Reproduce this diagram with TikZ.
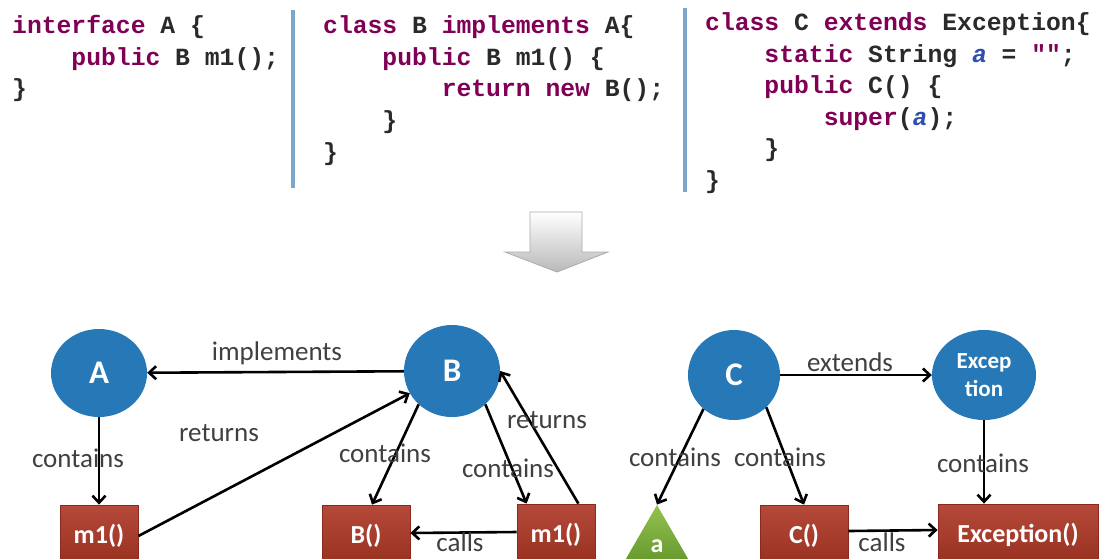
\documentclass[tikz,border=0pt]{standalone}
\usepackage{fontspec}
\setmainfont{Carlito}
\newfontfamily\codefont{Liberation Mono}
\usetikzlibrary{arrows.meta,shapes.geometric}
\definecolor{kw}{HTML}{7F0055}
\definecolor{idc}{HTML}{2A2A2A}
\definecolor{fldc}{HTML}{2F4FB0}
\definecolor{sepc}{HTML}{7BA7CC}
\definecolor{cblue}{HTML}{2678B6}
\definecolor{boxtop}{HTML}{B5493A}
\definecolor{boxbot}{HTML}{96301F}
\definecolor{boxedge}{HTML}{8A2A1E}
\definecolor{grtop}{HTML}{93C24E}
\definecolor{grbot}{HTML}{5F9129}
\definecolor{lblc}{HTML}{404040}
\newcommand{\kw}[1]{\textcolor{kw}{#1}}
\newcommand{\fldname}[1]{\textcolor{fldc}{\textit{#1}}}
\newcommand{\ind}{\hspace*{59.28pt}}
\begin{document}
\begin{tikzpicture}[x=1pt,y=-1pt,
  code/.style={anchor=base west, inner sep=0pt, font=\codefont\bfseries\fontsize{24.7}{31}\selectfont, text=idc},
  sepline/.style={draw=sepc, line width=4pt},
  cls/.style={ellipse, fill=cblue, inner sep=0pt, text=white, font=\bfseries\fontsize{33}{36}\selectfont},
  mbox/.style={rectangle, minimum height=62pt, inner sep=0pt, top color=boxtop, bottom color=boxbot, draw=boxedge, line width=0.8pt, text=white, font=\bfseries\fontsize{26}{30}\selectfont},
  fieldtri/.style={regular polygon, regular polygon sides=3, minimum size=89.4pt, inner sep=0pt, top color=grtop, bottom color=grbot, text=white, font=\bfseries\fontsize{26}{30}\selectfont},
  lbl/.style={inner sep=0pt, text=lblc, font=\fontsize{27}{32}\selectfont},
  arr/.style={draw=black, line width=2.6pt, -{Straight Barb[length=7pt,width=13pt]}}
]
\useasboundingbox (0,0) rectangle (1099,558);
\clip (0,0) rectangle (1099,558);
\fill[white] (0,0) rectangle (1099,558);

% code column 1
\node[code] (a1) at (12,33) {\kw{interface} A \{};
\node[code] (a2) at (12,65) {\ind\kw{public} B m1();};
\node[code] (a3) at (12,96) {\}};
\draw[sepline] (293,10) -- (293,188);
% code column 2
\node[code] (b1) at (323,33) {\kw{class} B \kw{implements} A\{};
\node[code] (b2) at (323,65) {\ind\kw{public} B m1() \{};
\node[code] (b3) at (323,96) {\ind\ind\kw{return} \kw{new} B();};
\node[code] (b4) at (323,128) {\ind\}};
\node[code] (b5) at (323,160) {\}};
\draw[sepline] (685,8) -- (685,192);
% code column 3
\node[code] (c1) at (705,30) {\kw{class} C \kw{extends} Exception\{};
\node[code] (c2) at (705,62) {\ind\kw{static} String \fldname{a} = \kw{""};};
\node[code] (c3) at (705,93) {\ind\kw{public} C() \{};
\node[code] (c4) at (705,125) {\ind\ind\kw{super}(\fldname{a});};
\node[code] (c5) at (705,156) {\ind\}};
\node[code] (c6) at (705,188) {\}};

% transformation arrow
\draw[draw=gray!65, top color=white, bottom color=gray!55, line width=0.8pt]
  (530,212) -- (582,212) -- (582,252) -- (608,252) -- (557,272) -- (505,252) -- (530,252) -- cycle;

% graph nodes
\node[cls, minimum width=96pt, minimum height=88pt] (A) at (99,373) {A};
\node[cls, minimum width=96pt, minimum height=92pt] (B) at (452,371) {B};
\node[cls, minimum width=92pt, minimum height=90pt] (C) at (734,375) {C};
\node[cls, minimum width=104pt, minimum height=90pt, align=center, font=\bfseries\fontsize{23}{28}\selectfont] (Exc) at (984,375) {Excep\\tion};

\node[mbox, minimum width=78pt] (m1a) at (99,536) {m1()};
\node[mbox, minimum width=88pt] (Bc) at (366,536) {B()};
\node[mbox, minimum width=78pt] (m1b) at (556,535) {m1()};
\node[fieldtri] (fa) at (657,549.7) {\raisebox{7pt}{a}};
\node[mbox, minimum width=88pt] (Cc) at (804,536) {C()};
\node[mbox, minimum width=160pt] (Excb) at (1018,535) {Exception()};

% connectors
\draw[arr] (B) -- (A);
\draw[arr] (A) -- (m1a);
\draw[arr] (m1a.east) -- (B);
\draw[arr] (B.225) -- ([xshift=6pt]Bc.north);
\draw[arr] (B.315) -- ([xshift=10pt]m1b.north west);
\draw[arr] ([xshift=-17pt]m1b.north east) -- (B.east);
\draw[arr] ([yshift=3pt]m1b.west) -- ([yshift=3pt]Bc.east);
\draw[arr] (C) -- (Exc);
\draw[arr] (C.228) -- (fa.corner 1);
\draw[arr] (C.315) -- (Cc.north);
\draw[arr] (Exc) -- (Exc |- Excb.north);
\draw[arr] ([yshift=5pt]Cc.east) -- ([yshift=5pt]Excb.west);

% labels
\node[lbl] (limpl) at (277,353) {implements};
\node[lbl] (lca) at (78,458) {contains};
\node[lbl] (lra) at (219,433) {returns};
\node[lbl] (lcb1) at (385,453) {contains};
\node[lbl] (lcb2) at (508,468) {contains};
\node[lbl] (lrb) at (547,420) {returns};
\node[lbl] (lcallb) at (460,542) {calls};
\node[lbl] (lext) at (850,362) {extends};
\node[lbl] (lcc1) at (675,457) {contains};
\node[lbl] (lcc2) at (780,457) {contains};
\node[lbl] (lce) at (983,463) {contains};
\node[lbl] (lcallc) at (882,542) {calls};
\end{tikzpicture}
\end{document}
